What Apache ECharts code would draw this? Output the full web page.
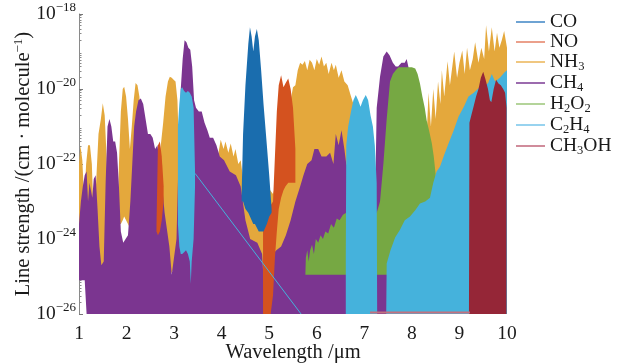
<!DOCTYPE html>
<html>
<head>
<meta charset="utf-8">
<script src="https://cdn.jsdelivr.net/npm/echarts@6/dist/echarts.min.js"></script>
<style>
  html, body { margin: 0; padding: 0; background: #fff; }
  #chart { width: 618px; height: 363px; }
</style>
</head>
<body>
<div id="chart"></div>
<script>
// Line strengths are stored as log10 exponents (cm/molecule).
// Each species is a band: upper edge (Top) and lower edge (Bottom) per wavelength (um).
// null splits a species into separate bands.

const coWave   = [4.42, 4.45, 4.50, 4.56, 4.595, 4.63, 4.665, 4.70, 4.74, 4.78, 4.83, 4.88, 4.95, 5.00, 5.05];
const coTop    = [-22.8, -21.2, -19.9, -18.8, -18.35, -18.6, -19.0, -18.6, -18.4, -18.7, -19.5, -20.4, -21.5, -22.3, -23.2];
const coBottom = [-23.0, -23.0, -23.2, -23.3, -23.4, -23.5, -23.6, -23.6, -23.7, -23.8, -23.8, -23.8, -23.6, -23.4, -23.3];

const noWave   = [2.63, 2.66, 2.70, 2.74, 2.78, null, 4.87, 4.92, 4.97, 5.03, 5.08, 5.12, 5.16, 5.20, 5.25, 5.30, 5.34, 5.40, 5.45, 5.50, 5.55];
const noTop    = [-23.6, -21.5, -21.4, -21.8, -22.6, null, -23.6, -23.3, -23.2, -23.1, -23.0, -21.8, -20.6, -19.9, -19.63, -19.95, -19.85, -19.72, -20.0, -20.5, -21.6];
const noBottom = [-23.8, -23.9, -23.8, -23.5, -23.0, null, -26.5, -26.5, -26.5, -26.5, -25.5, -24.5, -23.8, -23.2, -22.9, -22.7, -22.6, -22.5, -22.5, -22.5, -22.5];

const nh3Wave = [
  1.00, 1.03, 1.07, 1.11, 1.15, 1.19, 1.23, 1.27, 1.31, 1.36, 1.41, 1.46, 1.50, 1.54, 1.58, 1.62, 1.80,
  1.84, 1.88, 1.92, 1.95, 1.99, 2.03, 2.07, 2.11, 2.15, 2.19, 2.23, 2.27, 2.31, 2.35, 2.60,
  2.72, 2.77, 2.82, 2.87, 2.91, 2.95, 2.99, 3.03, 3.07, 3.10, 3.14, null,
  3.85, 3.92, 3.98, 4.04, 4.08, 4.14, 4.19, 4.25, 4.29, 4.35, 4.40, 4.46, 4.55, 4.70, 4.80, 4.88, 4.95,
  5.02, 5.08, 5.15, 5.25, 5.35, 5.45, 5.50, 5.55, 5.60, 5.65, 5.70, 5.75, 5.80, 5.85, 5.90, 5.95, 6.00,
  6.05, 6.10, 6.15, 6.20, 6.25, 6.31, 6.36, 6.40, 6.46, 6.52, 6.58, 6.65, 6.72, 6.77, 6.95, null,
  8.25, 8.35, 8.40, 8.45, 8.50, 8.55, 8.60, 8.63, 8.68, 8.75, 8.80, 8.85, 8.89, 8.95, 9.00, 9.06, 9.11,
  9.16, 9.22, 9.28, 9.33, 9.40, 9.46, 9.52, 9.56, 9.62, 9.68, 9.74, 9.79, 9.84, 9.89, 9.94, 10.0
];
const nh3Top = [
  -22.0, -21.5, -21.9, -23.0, -22.0, -21.5, -21.5, -22.0, -23.5, -22.5, -21.2, -20.8, -20.38, -20.7, -21.8, -24.0, -24.0,
  -22.0, -20.6, -20.0, -19.94, -20.2, -20.8, -21.6, -21.0, -20.3, -19.84, -19.9, -20.2, -21.0, -22.0, -22.5,
  -21.5, -20.9, -20.2, -19.8, -19.67, -19.7, -19.75, -19.8, -20.3, -21.5, -23.0, null,
  -22.5, -21.8, -21.35, -21.6, -21.4, -21.7, -21.45, -21.8, -21.6, -22.0, -21.9, -22.5, -22.6, -22.5, -22.5, -22.6, -22.5,
  -22.7, -22.8, -22.5, -21.0, -20.5, -20.3, -19.95, -19.9, -19.5, -19.3, -19.35, -19.25, -19.5, -19.22, -19.3, -19.5, -19.2,
  -19.35, -19.13, -19.4, -19.3, -19.6, -19.3, -19.5, -19.35, -19.7, -19.5, -19.8, -19.9, -20.2, -20.4, -22.0, null,
  -23.0, -20.1, -21.0, -20.0, -20.8, -19.8, -20.4, -19.5, -20.2, -19.26, -19.9, -19.4, -19.0, -19.7, -19.3, -18.97, -19.6,
  -18.9, -19.5, -19.2, -18.75, -19.3, -18.9, -19.2, -18.3, -19.0, -18.35, -19.0, -18.5, -18.9, -18.7, -18.45, -18.9
];
const nh3Bottom = [
  -23.6, -23.6, -23.7, -23.8, -24.0, -24.2, -24.3, -24.2, -24.0, -24.5, -24.7, -24.7, -24.7, -24.7, -24.6, -24.6, -24.2,
  -23.6, -23.6, -23.5, -23.4, -23.5, -23.6, -23.7, -23.5, -23.0, -22.5, -22.0, -22.0, -22.0, -22.2, -22.6,
  -24.8, -24.9, -24.95, -24.95, -24.9, -24.9, -24.8, -24.6, -24.2, -23.5, -23.2, null,
  -22.6, -22.6, -22.7, -22.8, -22.8, -23.0, -23.0, -23.2, -23.3, -23.4, -23.5, -24.0, -24.3, -24.5, -24.8, -25.3, -26.2,
  -25.8, -25.0, -24.6, -24.4, -24.2, -23.8, -23.6, -23.4, -23.3, -23.3, -23.3, -23.3, -23.3, -23.4, -23.4, -23.4, -23.4,
  -23.4, -23.4, -23.5, -23.5, -23.5, -23.5, -23.6, -23.6, -23.7, -23.8, -23.8, -23.8, -23.5, -23.3, -22.2, null,
  -23.2, -22.6, -22.5, -22.5, -22.4, -22.4, -22.3, -22.2, -22.1, -21.9, -21.7, -21.5, -21.3, -21.1, -20.9, -20.7, -20.6,
  -20.5, -20.4, -20.3, -20.2, -20.1, -20.0, -20.0, -20.0, -20.0, -20.0, -20.0, -20.0, -20.0, -19.9, -19.9, -19.9
];

const ch4Wave = [
  1.00, 1.04, 1.08, 1.12, 1.16, 1.19, 1.22, 1.25, 1.28, 1.31, 1.35, 1.39, 1.43, 1.47, 1.52, 1.56, 1.60, 1.64,
  1.68, 1.72, 1.76, 1.80, 1.84, 1.88, 1.93, 1.98, 2.03, 2.08, 2.12, 2.16, 2.20, 2.25, 2.30, 2.35, 2.40, 2.45,
  2.50, 2.55, 2.60, 2.65, 2.70, 2.75, 2.80, 2.90, 2.95, 3.05, 3.10, 3.14, 3.18, 3.22, 3.26, 3.30, 3.34, 3.38,
  3.42, 3.46, 3.52, 3.58, 3.64, 3.70, 3.75, 3.82, 3.89, 3.96, 4.05, 4.17, 4.30, 4.40, 4.50, 4.60, 4.75, 4.85,
  4.90, 4.95, 5.02, 5.08, 5.15, 5.25, 5.35, 5.45, 5.55, 5.65, 5.72, 5.80, 5.89, 5.95, 6.03, 6.10, 6.20, 6.28,
  6.35, 6.40, 6.46, 6.52, 6.58, 6.62, 7.00, 7.22, 7.26, 7.33, 7.40, 7.47, 7.53, 7.60, 7.66, 7.71, 7.78, 7.85,
  7.89, 7.96, 8.05, 8.20, 8.35
];
const ch4Top = [
  -23.6, -23.0, -22.6, -22.3, -22.2, -23.0, -22.5, -22.7, -22.9, -22.4, -22.3, -23.2, -24.2, -24.7, -24.6, -22.5, -21.0, -20.8,
  -21.0, -21.4, -21.4, -21.7, -22.6, -23.8, -24.1, -24.0, -23.9, -23.0, -22.0, -21.0, -20.6, -20.3, -20.25, -20.4, -20.8, -21.2,
  -21.2, -21.3, -21.6, -21.5, -22.0, -22.6, -23.3, -24.2, -24.95, -24.0, -21.5, -20.0, -19.2, -18.7, -18.75, -18.9, -18.95, -19.4,
  -20.3, -20.5, -20.6, -20.6, -20.9, -21.1, -21.3, -21.3, -21.5, -21.8, -21.9, -22.2, -22.3, -22.6, -23.5, -24.0, -24.1, -24.4,
  -25.5, -26.3, -25.8, -24.4, -24.3, -24.2, -23.9, -23.5, -23.0, -22.6, -22.3, -22.0, -21.9, -21.6, -21.6, -21.8, -21.8, -21.7,
  -22.0, -21.2, -21.5, -21.1, -21.6, -22.0, -23.0, -23.5, -20.5, -19.67, -19.13, -19.0, -19.1, -19.3, -19.4, -19.4, -19.3, -19.3,
  -19.2, -19.6, -21.0, -23.0, -25.0
];
const ch4Bottom = ch4Wave.map((w) => (w < 1.13 ? -25.1 : -26.5));

const h2o2Wave = [
  5.76, 5.77, 5.80, 5.83, 5.86, 5.90, 5.94, 5.98, 6.03, 6.08, 6.13, 6.18, 6.24, 6.30, 6.36, 6.42, 6.48, 6.55,
  6.62, 6.90, 7.26, 7.33, 7.40, 7.47, 7.54, 7.60, 7.66, 7.72, 7.80, 7.90, 8.00, 8.07, 8.12, 8.17, 8.22, 8.27,
  8.31, 8.36, 8.42, 8.46, 8.49, 8.52, 8.56, 8.62, 8.70
];
const h2o2Top = [
  -24.95, -24.5, -24.3, -24.6, -24.3, -24.15, -24.4, -24.0, -24.1, -23.9, -24.0, -23.8, -23.85, -23.6, -23.7, -23.45, -23.5, -23.35,
  -23.3, -23.3, -23.3, -23.0, -22.0, -20.8, -19.8, -19.6, -19.5, -19.42, -19.42, -19.42, -19.42, -19.45, -19.6, -19.85, -20.2, -20.5,
  -20.83, -21.1, -21.45, -21.8, -22.16, -22.6, -23.0, -23.8, -24.9
];
const h2o2Bottom = h2o2Wave.map(() => -24.95);

const c2h4Wave = [
  3.08, 3.11, 3.14, 3.17, 3.21, 3.25, 3.29, 3.33, 3.35, 3.37, 3.41, 3.44, null,
  6.61, 6.62, 6.66, 6.72, 6.77, 6.82, 6.87, 6.92, 6.97, 7.03, 7.08, 7.13, 7.18, 7.22, 7.26, 7.27, null,
  7.46, 7.47, 7.55, 7.65, 7.75, 7.85, 7.96, 8.07, 8.17, 8.28, 8.38, 8.45, 8.52, 8.59, 8.68, 8.77, 8.88,
  8.98, 9.10, 9.19, 9.30, 9.47, 9.60, 9.68, 9.75, 9.85, 9.95, 10.0
];
const c2h4Top = [
  -21.0, -20.4, -20.0, -19.95, -20.05, -20.1, -20.05, -20.1, -20.15, -20.2, -20.5, -22.2, null,
  -24.5, -21.5, -21.0, -20.6, -20.3, -20.16, -20.3, -20.47, -20.3, -20.16, -20.3, -20.7, -21.0, -21.5, -22.5, -26.5, null,
  -26.5, -24.65, -24.3, -23.95, -23.75, -23.5, -23.4, -23.23, -23.05, -23.0, -22.9, -22.5, -22.2, -22.07, -21.75, -21.45, -21.1,
  -20.74, -20.45, -20.2, -20.1, -19.9, -19.85, -19.6, -19.8, -19.7, -19.55, -19.5
];
const c2h4Bottom = [
  -23.6, -24.2, -24.4, -24.4, -24.35, -24.3, -24.4, -24.6, -25.2, -24.6, -24.0, -22.6, null,
  -26.5, -26.5, -26.5, -26.5, -26.5, -26.5, -26.5, -26.5, -26.5, -26.5, -26.5, -26.5, -26.5, -26.5, -26.5, -26.5, null,
  -26.5, -26.5, -26.5, -26.5, -26.5, -26.5, -26.5, -26.5, -26.5, -26.5, -26.5, -26.5, -26.5, -26.5, -26.5, -26.5, -26.5,
  -26.5, -26.5, -26.5, -26.5, -26.5, -26.5, -26.5, -26.5, -26.5, -26.5, -26.5
];
// single C2H4 line running between bands, and faint CH3OH trace on the floor
const c2h4LineWave = [3.44, 5.67];
const c2h4LineExp  = [-22.25, -26.0];
const ch3ohLineWave = [7.12, 9.22];
const ch3ohLineExp  = [-25.96, -25.96];

const ch3ohWave   = [9.20, 9.21, 9.25, 9.30, 9.35, 9.40, 9.45, 9.50, 9.55, 9.60, 9.64, 9.67, 9.72, 9.77, 9.82, 9.87, 9.92, 9.96, 9.99];
const ch3ohTop    = [-26.5, -20.9, -20.7, -20.45, -20.2, -20.0, -19.7, -19.54, -19.75, -20.0, -20.3, -20.35, -20.0, -19.75, -19.85, -19.9, -20.0, -20.1, -20.5];
const ch3ohBottom = ch3ohWave.map(() => -26.5);

const legendNames = ["CO", "NO", "NH3", "CH4", "H2O2", "C2H4", "CH3OH"];
const legendColors = ["#6ea3d3", "#eba08b", "#f0c780", "#9c6bae", "#b4d49a", "#98d3ef", "#d08c9b"];
const yExponents = [-26, -24, -22, -20, -18];

const FLOOR = -26;
const CEIL = -18;
const lift = (e) => Math.min(Math.max(e, FLOOR), CEIL) - FLOOR;

// minor ticks of a log axis, one per 2..9 within each decade
const minorTickPos = [];
for (let d = 0; d < CEIL - FLOOR; d++) {
	for (let k = 2; k <= 9; k++) minorTickPos.push(d + Math.log10(k));
}

function splitBands(wave, top, bottom) {
	const segs = [];
	let cur = [];
	wave.forEach((w, i) => {
		if (w === null) {
			if (cur.length) segs.push(cur);
			cur = [];
			return;
		}
		cur.push([w, lift(top[i]), lift(bottom[i])]);
	});
	if (cur.length) segs.push(cur);
	return segs;
}

// drawing order: first is at the back
const species = [
	{ name: "NH3", color: "#e4a83c", bands: splitBands(nh3Wave, nh3Top, nh3Bottom) },
	{ name: "CH4", color: "#7b3590", bands: splitBands(ch4Wave, ch4Top, ch4Bottom) },
	{ name: "NO", color: "#d4521f", bands: splitBands(noWave, noTop, noBottom) },
	{ name: "H2O2", color: "#76a843", bands: splitBands(h2o2Wave, h2o2Top, h2o2Bottom) },
	{ name: "C2H4", color: "#45b2dc", bands: splitBands(c2h4Wave, c2h4Top, c2h4Bottom) },
	{ name: "CO", color: "#1a6dae", bands: splitBands(coWave, coTop, coBottom) },
	{ name: "CH3OH", color: "#952637", bands: splitBands(ch3ohWave, ch3ohTop, ch3ohBottom) },
];

const series = [];
species.forEach((sp) => {
	sp.bands.forEach((seg) => {
		series.push({
			type: "custom",
			name: sp.name,
			coordinateSystem: "cartesian2d",
			silent: true,
			clip: true,
			itemStyle: { color: sp.color },
			data: [[seg[0][0], seg[0][1]]],
			renderItem: (params, api) => {
				const upper = seg.map((p) => api.coord([p[0], p[1]]));
				const lower = seg.slice().reverse().map((p) => api.coord([p[0], p[2]]));
				return {
					type: "polygon",
					shape: { points: upper.concat(lower) },
					style: { fill: sp.color },
				};
			},
		});
	});
});

series.push({
	type: "line",
	name: "C2H4",
	silent: true,
	showSymbol: false,
	lineStyle: { color: "#45b2dc", width: 1 },
	data: c2h4LineWave.map((w, i) => [w, lift(c2h4LineExp[i])]),
});
series.push({
	type: "line",
	name: "CH3OH",
	silent: true,
	showSymbol: false,
	lineStyle: { color: "#c2717f", width: 2 },
	data: ch3ohLineWave.map((w, i) => [w, lift(ch3ohLineExp[i])]),
});

const font = "'Liberation Serif', 'DejaVu Serif', serif";
const ink = "#1a1a1a";
const chart = echarts.init(document.getElementById("chart"), null, { renderer: "canvas" });

chart.setOption({
	animation: false,
	backgroundColor: "#fff",
	grid: { left: 79, right: 111, top: 14, bottom: 49, outerBoundsMode: "none" },
	legend: {
		orient: "vertical",
		left: 516,
		top: 12,
		padding: 0,
		itemGap: 0,
		itemWidth: 29,
		itemHeight: 2,
		icon: "rect",
		selectedMode: false,
		data: legendNames.map((n, i) => ({ name: n, itemStyle: { color: legendColors[i] } })),
		formatter: (name) => name.replace(/(\d)/g, "{sub|$1}"),
		textStyle: {
			fontFamily: font,
			fontSize: 19.5,
			color: ink,
			lineHeight: 19,
			rich: {
				sub: { fontFamily: font, fontSize: 12.5, color: ink, padding: [9, 0, 0, 0] },
			},
		},
	},
	xAxis: {
		type: "value",
		min: 1,
		max: 10,
		interval: 1,
		name: "Wavelength /μm",
		nameLocation: "middle",
		nameGap: 28,
		nameMoveOverlap: false,
		nameTextStyle: { fontFamily: font, fontSize: 20.5, color: ink },
		axisLine: { show: false },
		axisTick: { show: false },
		splitLine: { show: false },
		axisLabel: { fontFamily: font, fontSize: 19.5, color: ink, margin: 10 },
	},
	yAxis: [
		{
			type: "value",
			min: 0,
			max: 8,
			interval: 2,
			name: "Line strength /(cm · molecule{s|−1})",
			nameLocation: "middle",
			nameGap: 43,
			nameMoveOverlap: false,
			nameTextStyle: {
				fontFamily: font,
				fontSize: 20.5,
				color: ink,
				rich: { s: { fontFamily: font, fontSize: 13, color: ink, padding: [0, 0, 11, 0] } },
			},
			axisLine: { show: true, lineStyle: { color: "#8a8a8a", width: 1 } },
			axisTick: { show: true, inside: true, length: 4, lineStyle: { color: "#777" } },
			splitLine: { show: false },
			axisLabel: {
				margin: 3,
				formatter: (v) => {
					const e = yExponents.find((x) => x - FLOOR === v);
					return "{b|10}{s|−" + Math.abs(e) + "}";
				},
				rich: {
					b: { fontFamily: font, fontSize: 19.5, color: ink },
					s: { fontFamily: font, fontSize: 13, color: ink, padding: [0, 0, 12, 0] },
				},
			},
		},
		{
			type: "value",
			position: "left",
			min: 0,
			max: 8,
			axisLine: { show: false },
			axisLabel: { show: false },
			splitLine: { show: false },
			axisTick: {
				show: true,
				inside: true,
				length: 2.5,
				customValues: minorTickPos,
				lineStyle: { color: "#8a8a8a" },
			},
		},
	],
	series: series,
});
</script>
</body>
</html>
